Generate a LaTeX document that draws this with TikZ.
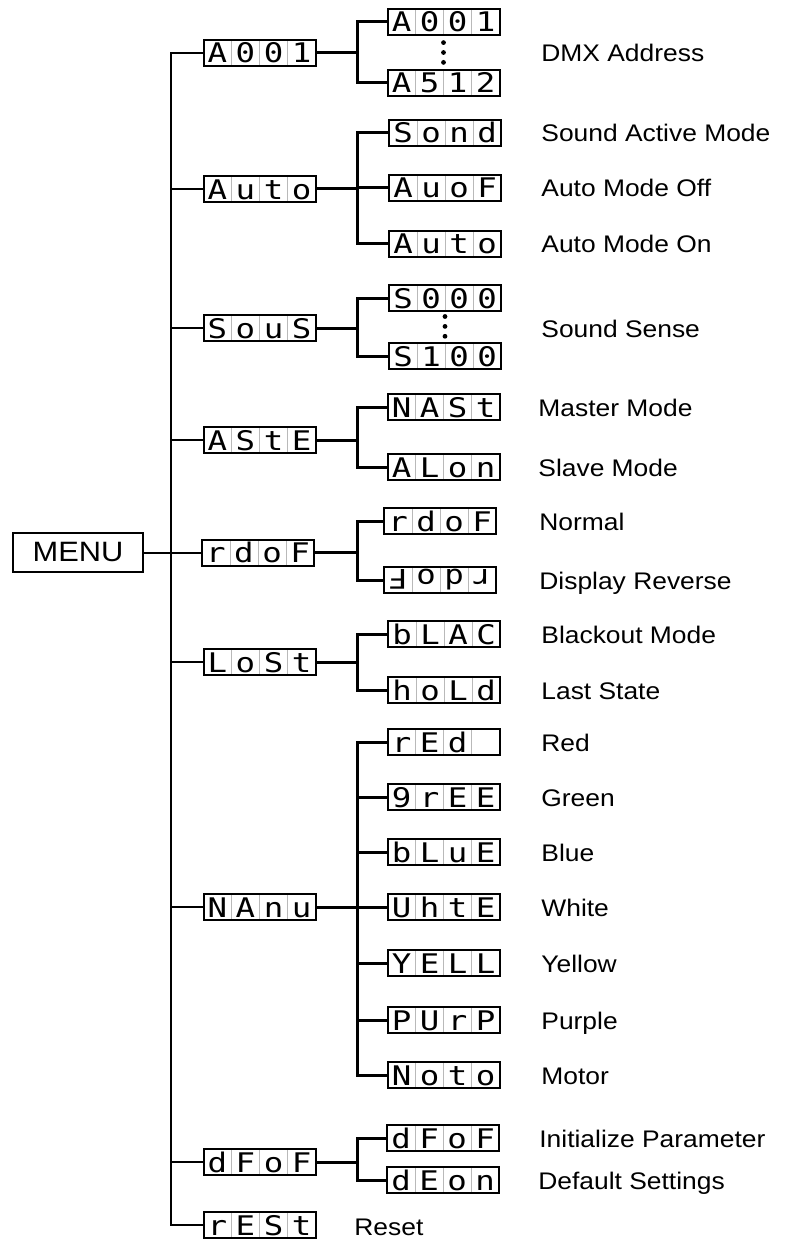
\documentclass[tikz,border=0pt]{standalone}
\usepackage{fontspec}
\setmainfont{Liberation Sans}[FakeStretch=1.1]
\newfontfamily\segfont{DejaVu Sans Mono}
\usetikzlibrary{calc}

% one cell of the four-digit display
\newcommand{\cell}[1]{\makebox[14pt]{\scalebox{1.2}[1]{#1}}}
\newcommand{\disp}[4]{\cell{#1}\cell{#2}\cell{#3}\cell{#4}}

\tikzset{
  panel/.style={draw, line width=1pt, minimum width=56pt, minimum height=13pt,
    inner sep=0pt, text height=10pt, text depth=0pt,
    font=\segfont\fontsize{13.5}{13.5}\selectfont,
    path picture={\foreach \k in {1,2,3}
      \draw[gray!55, line width=0.4pt]
        ($(path picture bounding box.south west)!\k/4!(path picture bounding box.south east)$) --
        ($(path picture bounding box.north west)!\k/4!(path picture bounding box.north east)$);}},
  menubox/.style={draw, line width=1pt, minimum width=65pt, minimum height=19.5pt,
    inner sep=0pt, font=\fontsize{14}{14}\selectfont},
  desc/.style={anchor=base west, inner sep=0pt, font=\fontsize{12}{12}\selectfont},
  trunk/.style={line width=1pt},
  twig/.style={line width=1.5pt},
}

\begin{document}
\begin{tikzpicture}[x=0.5pt, y=-0.5pt]
\useasboundingbox (0,0) rectangle (785,1241);
\coordinate (trunk) at (171,0);
\coordinate (fork) at (357,0);
% ---- menu
\node[menubox] (menu) at (78,552.5) {MENU};
% ---- first level
\node[panel] (addr) at (259.5,53) {\disp{A}{0}{0}{1}};
\node[panel] (auto) at (259.5,189) {\disp{A}{u}{t}{o}};
\node[panel] (sous) at (259.5,328) {\disp{S}{o}{u}{S}};
\node[panel] (aste) at (259.5,440) {\disp{A}{S}{t}{E}};
\node[panel] (rdof) at (258,552.5) {\disp{r}{d}{o}{F}};
\node[panel] (lost) at (259.5,662) {\disp{L}{o}{S}{t}};
\node[panel] (manu) at (259.5,907) {\disp{N}{A}{n}{u}};
\node[panel] (dfof) at (259.5,1162) {\disp{d}{F}{o}{F}};
\node[panel] (rest) at (259.5,1225) {\disp{r}{E}{S}{t}};
% ---- second level
\node[panel] (addr1) at (443.5,22) {\disp{A}{0}{0}{1}};
\node[panel] (addr2) at (443.5,83) {\disp{A}{5}{1}{2}};
\node[panel] (auto1) at (445,133) {\disp{S}{o}{n}{d}};
\node[panel] (auto2) at (445,188) {\disp{A}{u}{o}{F}};
\node[panel] (auto3) at (445,244) {\disp{A}{u}{t}{o}};
\node[panel] (sous1) at (445,298) {\disp{S}{0}{0}{0}};
\node[panel] (sous2) at (445,356) {\disp{S}{1}{0}{0}};
\node[panel] (aste1) at (443.5,407) {\disp{N}{A}{S}{t}};
\node[panel] (aste2) at (443.5,467) {\disp{A}{L}{o}{n}};
\node[panel] (rdof1) at (440,521) {\disp{r}{d}{o}{F}};
\node[panel] (rdof2) at (440,580) {\rotatebox[origin=c]{180}{\disp{r}{d}{o}{F}}};
\node[panel] (lost1) at (444,634) {\disp{b}{L}{A}{C}};
\node[panel] (lost2) at (444,690) {\disp{h}{o}{L}{d}};
\node[panel] (manu1) at (443.5,742) {\disp{r}{E}{d}{}};
\node[panel] (manu2) at (443.5,797) {\disp{9}{r}{E}{E}};
\node[panel] (manu3) at (443.5,852) {\disp{b}{L}{u}{E}};
\node[panel] (manu4) at (443.5,907) {\disp{U}{h}{t}{E}};
\node[panel] (manu5) at (443.5,963) {\disp{Y}{E}{L}{L}};
\node[panel] (manu6) at (443.5,1020) {\disp{P}{U}{r}{P}};
\node[panel] (manu7) at (443.5,1075) {\disp{N}{o}{t}{o}};
\node[panel] (dfof1) at (443,1138) {\disp{d}{F}{o}{F}};
\node[panel] (dfof2) at (443,1180) {\disp{d}{E}{o}{n}};
% ---- descriptions
\node[desc] (taddr) at (541,62) {DMX Address};
\node[desc] (tauto1) at (541,142) {Sound Active Mode};
\node[desc] (tauto2) at (541,197) {Auto Mode Off};
\node[desc] (tauto3) at (541,253) {Auto Mode On};
\node[desc] (tsous) at (541,337) {Sound Sense};
\node[desc] (taste1) at (538,416) {Master Mode};
\node[desc] (taste2) at (538,476) {Slave Mode};
\node[desc] (trdof1) at (539,530) {Normal};
\node[desc] (trdof2) at (539,589) {Display Reverse};
\node[desc] (tlost1) at (541,643) {Blackout Mode};
\node[desc] (tlost2) at (541,699) {Last State};
\node[desc] (tmanu1) at (541,751) {Red};
\node[desc] (tmanu2) at (541,806) {Green};
\node[desc] (tmanu3) at (541,861) {Blue};
\node[desc] (tmanu4) at (541,916) {White};
\node[desc] (tmanu5) at (541,972) {Yellow};
\node[desc] (tmanu6) at (541,1029) {Purple};
\node[desc] (tmanu7) at (541,1084) {Motor};
\node[desc] (tdfof1) at (539,1147) {Initialize Parameter};
\node[desc] (tdfof2) at (538,1189) {Default Settings};
\node[desc] (trest) at (354,1235) {Reset};
% ---- trunk
\draw[trunk] (addr.west) -| (trunk |- rest.west) -- (rest.west);
\foreach \n in {auto,sous,aste,rdof,lost,manu,dfof}
  \draw[trunk] (\n.west) -- (\n.west -| trunk);
\draw[trunk] (menu.east) -- (menu.east -| trunk);
% ---- forks
\foreach \n/\last in {addr/2,auto/3,sous/2,aste/2,rdof/2,lost/2,manu/7,dfof/2} {
  \draw[twig] (\n.east) -- (\n.east -| fork);
  \draw[twig] (\n1.west) -| (fork |- \n\last.west) -- (\n\last.west);
}
\draw[twig] (auto2.west) -- (auto2.west -| fork);
\foreach \m in {2,...,6}
  \draw[twig] (manu\m.west) -- (manu\m.west -| fork);
% ---- ellipsis dots
\foreach \t in {0.2,0.5,0.8}
  \fill ($(addr1.south)!\t!(addr2.north)$) circle (1.2pt);
\foreach \t in {0.15,0.48,0.81}
  \fill ($(sous1.south)!\t!(sous2.north)$) circle (1.2pt);
\end{tikzpicture}
\end{document}
